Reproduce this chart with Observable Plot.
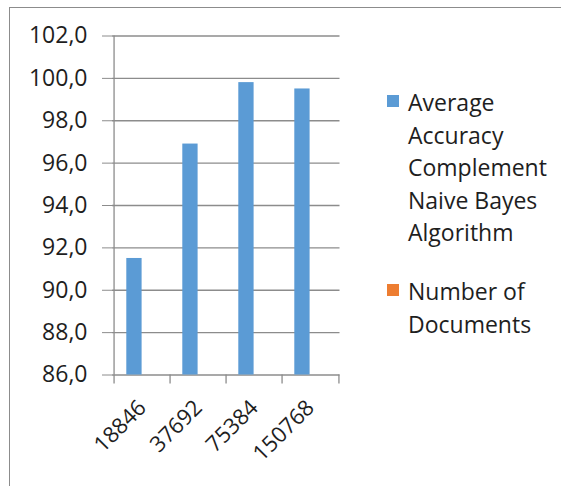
<!DOCTYPE html>
<html>
<head>
<meta charset="utf-8">
<script src="https://cdn.jsdelivr.net/npm/d3@7"></script>
<script src="https://cdn.jsdelivr.net/npm/@observablehq/plot@0.6"></script>
<style>
  html, body { margin: 0; padding: 0; background: #fff; }
  body { width: 561px; height: 486px; position: relative; overflow: hidden; font-family: "Open Sans", sans-serif; }
  #chart { position: absolute; left: 0; top: 0; }
  #border { position: absolute; left: 9px; top: 7px; width: 600px; height: 600px;
            border-left: 1.3px solid #8c8c8c; border-top: 1.3px solid #8c8c8c; box-sizing: border-box; }
  #legend { position: absolute; left: 387px; top: 86px; font-size: 23px; line-height: 32.6px; color: #1e1e1e; }
  .item { position: relative; padding-left: 21px; width: 150px; }
  .swatch { position: absolute; left: 0; width: 12px; height: 12px; }
</style>
</head>
<body>
<div id="border"></div>
<div id="chart"></div>
<div id="legend"></div>
<script>
// Document counts on the x axis
const categories = ["18846", "37692", "75384", "150768"];
// Average accuracy (%) of Complement Naive Bayes for each document count
const accuracy = [91.5, 96.9, 99.8, 99.5];
// Series shown in the legend
const seriesNames = ["Average Accuracy Complement Naive Bayes Algorithm", "Number of Documents"];
const seriesColors = ["#5B9BD5", "#ED7D31"];
// Value axis
const yMin = 86, yMax = 102;
const yTicks = [86, 88, 90, 92, 94, 96, 98, 100, 102];

const rows = categories.map((c, i) => ({docs: c, acc: accuracy[i]}));
const gridColor = "#8c8c8c";
const band = (339.5 - 112) / categories.length;

const plot = Plot.plot({
  width: 561,
  height: 486,
  marginLeft: 112,
  marginRight: 221.5,
  marginTop: 35.5,
  marginBottom: 111.5,
  style: {fontFamily: "Open Sans, sans-serif", fontSize: "23px", color: "#1e1e1e", background: "transparent"},
  x: {
    domain: categories,
    paddingInner: 0,
    paddingOuter: 0,
    label: null,
    tickSize: 0,
    tickPadding: 29,
    tickRotate: -45,
    line: false
  },
  y: {
    domain: [yMin, yMax],
    ticks: yTicks,
    tickFormat: d => d.toFixed(1).replace(".", ","),
    tickSize: 10,
    tickPadding: 15,
    label: null,
    line: false
  },
  marks: [
    // horizontal gridlines
    Plot.ruleY(yTicks, {stroke: gridColor, strokeWidth: 1.3}),
    // value axis line
    Plot.ruleX(categories.slice(0, 1), {x: d => d, dx: -band / 2, y1: yMin, y2: yMax, stroke: gridColor, strokeWidth: 1.3}),
    // category boundary ticks below the axis
    Plot.ruleX(categories, {x: d => d, dx: -band / 2, y1: yMin, y2: yMin, insetBottom: -9, stroke: gridColor, strokeWidth: 1.3}),
    Plot.ruleX(categories.slice(-1), {x: d => d, dx: band / 2, y1: yMin, y2: yMin, insetBottom: -9, stroke: gridColor, strokeWidth: 1.3}),
    // accuracy bars (the right half of each group is the Number of Documents slot)
    Plot.barY(rows, {x: "docs", y1: yMin, y2: "acc", fill: seriesColors[0], insetLeft: 12.3, insetRight: 28.4})
  ]
});

// colour the value axis tick marks like the gridlines
plot.querySelectorAll("g[aria-label^='y-axis'] path, g[aria-label^='y-axis'] line").forEach(p => p.setAttribute("stroke", gridColor));
// slightly smaller rotated category labels
plot.querySelectorAll("g[aria-label^='x-axis'] text").forEach(t => t.setAttribute("font-size", "22px"));
document.getElementById("chart").appendChild(plot);

// legend
const legend = document.getElementById("legend");
seriesNames.forEach((name, i) => {
  const item = document.createElement("div");
  item.className = "item";
  if (i > 0) item.style.marginTop = "26px";
  const sw = document.createElement("span");
  sw.className = "swatch";
  sw.style.background = seriesColors[i];
  sw.style.top = "9px";
  item.appendChild(sw);
  item.appendChild(document.createTextNode(name));
  legend.appendChild(item);
});
</script>
</body>
</html>
